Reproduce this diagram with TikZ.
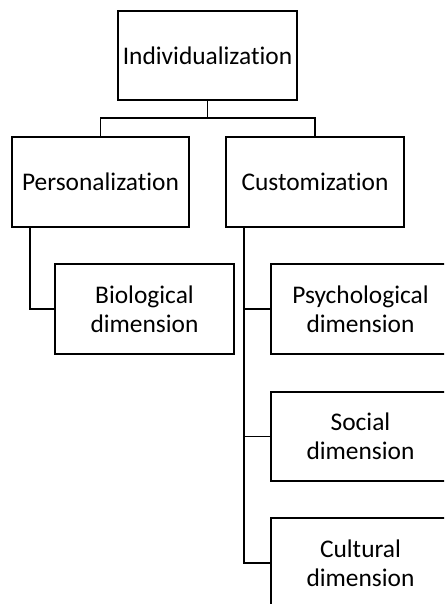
\documentclass[tikz,border=0pt]{standalone}
\usepackage{fontspec}
\setmainfont[RawFeature=-liga]{Carlito}
\begin{document}
\begin{tikzpicture}[x=1pt,y=-1pt,
  box/.style={draw=black,line width=1.6pt,rectangle,inner sep=0pt,align=center,
    minimum width=179pt,minimum height=90pt,
    font=\fontsize{25.4}{29}\selectfont},
  link/.style={draw=black,line width=1.1pt}]
\useasboundingbox (0,0) rectangle (444,604);
\clip (0,0) rectangle (444,604);
\node[box,minimum height=89pt] (ind) at (207.5,55.5) {Individualization};
\node[box,minimum width=177pt] (pers) at (100.5,182) {Personalization};
\node[box,minimum width=178pt] (cust) at (315,182) {Customization};
\node[box] (bio) at (144.5,309) {Biological\\dimension};
\node[box] (psy) at (360.5,309) {Psychological\\dimension};
\node[box,minimum height=89pt] (soc) at (360.5,436.5) {Social\\dimension};
\node[box] (cul) at (360.5,563) {Cultural\\dimension};
\coordinate (bar) at (207.5,118);
\draw[link] (ind.south) -- (bar);
\draw[link] (pers.north) |- (bar) -| (cust.north);
\draw[link] (pers.south -| 30,0) |- (bio.west);
\draw[link] (cust.south -| 244,0) |- (psy.west);
\draw[link] (cust.south -| 244,0) |- (soc.west);
\draw[link] (cust.south -| 244,0) |- (cul.west);
\end{tikzpicture}
\end{document}
